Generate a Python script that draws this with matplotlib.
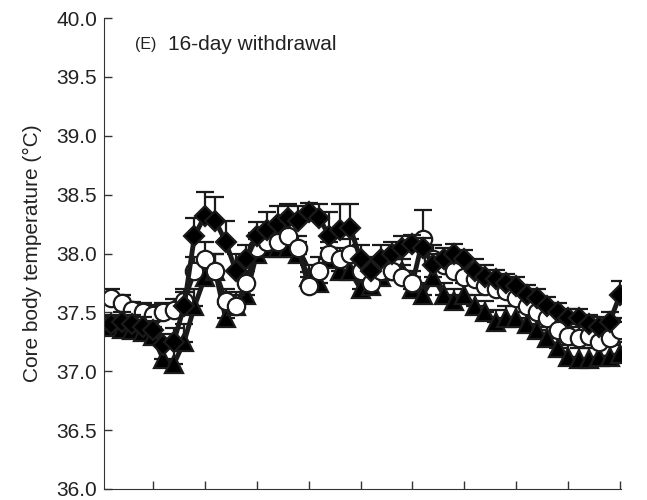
import numpy as np
import matplotlib
matplotlib.use("Agg")
import matplotlib.pyplot as plt

plt.rcParams['font.family'] = ['Liberation Sans', 'DejaVu Sans']

# time bins (ticks every 5 bins)
bins = np.arange(1, 51)

circle_vals = [37.62, 37.58, 37.52, 37.50, 37.48, 37.50, 37.52, 37.60, 37.85, 37.95,
               37.85, 37.60, 37.55, 37.75, 38.05, 38.10, 38.10, 38.15, 38.05, 37.72,
               37.85, 38.00, 37.95, 38.00, 37.85, 37.75, 37.85, 37.85, 37.80, 37.75,
               38.12, 37.95, 37.90, 37.85, 37.80, 37.78, 37.72, 37.70, 37.68, 37.62,
               37.55, 37.50, 37.45, 37.35, 37.30, 37.28, 37.30, 37.25, 37.28, 37.35]
circle_err = [0.08, 0.07, 0.07, 0.08, 0.08, 0.08, 0.09, 0.10, 0.12, 0.15,
              0.15, 0.10, 0.10, 0.10, 0.12, 0.12, 0.10, 0.10, 0.10, 0.12,
              0.12, 0.10, 0.10, 0.12, 0.10, 0.10, 0.10, 0.10, 0.10, 0.10,
              0.25, 0.12, 0.10, 0.10, 0.10, 0.10, 0.10, 0.08, 0.08, 0.08,
              0.08, 0.08, 0.08, 0.10, 0.10, 0.10, 0.10, 0.10, 0.10, 0.10]

diamond_vals = [37.40, 37.42, 37.40, 37.38, 37.35, 37.22, 37.25, 37.55, 38.15, 38.32,
                38.28, 38.10, 37.85, 37.95, 38.15, 38.20, 38.25, 38.30, 38.28, 38.35,
                38.30, 38.15, 38.20, 38.22, 37.95, 37.85, 37.95, 38.00, 38.05, 38.08,
                38.05, 37.90, 37.95, 38.00, 37.95, 37.85, 37.80, 37.78, 37.75, 37.72,
                37.65, 37.62, 37.55, 37.50, 37.45, 37.45, 37.40, 37.38, 37.42, 37.65]
diamond_err = [0.08, 0.08, 0.08, 0.08, 0.08, 0.10, 0.12, 0.12, 0.15, 0.20,
               0.20, 0.18, 0.15, 0.12, 0.12, 0.15, 0.15, 0.12, 0.12, 0.08,
               0.12, 0.20, 0.22, 0.20, 0.12, 0.12, 0.12, 0.10, 0.10, 0.08,
               0.08, 0.10, 0.10, 0.08, 0.08, 0.10, 0.10, 0.08, 0.08, 0.08,
               0.08, 0.08, 0.08, 0.08, 0.08, 0.08, 0.08, 0.08, 0.08, 0.12]

triangle_vals = [37.38, 37.36, 37.35, 37.33, 37.30, 37.10, 37.06, 37.25, 37.55, 37.80,
                 37.85, 37.45, 37.55, 37.65, 38.00, 38.05, 38.05, 38.05, 38.00, 37.80,
                 37.75, 37.95, 37.85, 37.85, 37.70, 37.72, 37.80, 37.85, 37.85, 37.70,
                 37.65, 37.80, 37.65, 37.60, 37.65, 37.55, 37.50, 37.42, 37.45, 37.45,
                 37.40, 37.35, 37.28, 37.20, 37.12, 37.10, 37.10, 37.12, 37.12, 37.15]
triangle_err = [0.08, 0.08, 0.08, 0.08, 0.08, 0.12, 0.15, 0.15, 0.15, 0.15,
                0.15, 0.12, 0.12, 0.12, 0.12, 0.12, 0.10, 0.10, 0.10, 0.10,
                0.10, 0.10, 0.10, 0.10, 0.10, 0.10, 0.10, 0.10, 0.10, 0.10,
                0.10, 0.10, 0.10, 0.10, 0.10, 0.10, 0.10, 0.10, 0.10, 0.10,
                0.10, 0.10, 0.10, 0.10, 0.10, 0.10, 0.10, 0.10, 0.10, 0.10]

fig = plt.figure(figsize=(6.47, 5.0), dpi=100)
ax = fig.add_axes([0.161, 0.022, 0.799, 0.942])

series = [
    (triangle_vals, triangle_err, '^', 'black', 13),
    (circle_vals, circle_err, 'o', 'white', 12.5),
    (diamond_vals, diamond_err, 'D', 'black', 10.5),
]
for vals, err, mk, fc, ms in series:
    vals = np.array(vals)
    err = np.array(err)
    ax.errorbar(bins, vals, yerr=[np.zeros_like(err), err], fmt='none',
                ecolor='#1a1a1a', elinewidth=1.6, capsize=6.5, capthick=1.6)
    ax.plot(bins, vals, color='#1a1a1a', lw=3.5, marker=mk, ms=ms,
            mfc=fc, mec='#1a1a1a', mew=1.6)

ax.set_xlim(0.3, 50.1)
ax.set_ylim(36.0, 40.0)
ax.set_xticks(np.arange(5, 51, 5))
ax.set_xticklabels([])
ax.set_yticks(np.arange(36.0, 40.01, 0.5))
ax.set_yticklabels(['%.1f' % v for v in np.arange(36.0, 40.01, 0.5)], fontsize=15)
ax.tick_params(direction='in', length=6, width=1, colors='#333333', labelcolor='#222222')
ax.tick_params(axis='y', pad=5)
for s in ['top', 'right']:
    ax.spines[s].set_visible(False)
for s in ['left', 'bottom']:
    ax.spines[s].set_color('#333333')
ax.set_ylabel('Core body temperature (\u00b0C)', fontsize=15, color='#222222', labelpad=10)

ax.text(0.06, 0.943, '(E)', transform=ax.transAxes, fontsize=11.5, color='#222222', va='center')
ax.text(0.124, 0.943, '16-day withdrawal', transform=ax.transAxes, fontsize=15, color='#222222', va='center')

fig.savefig('out.png', dpi=100)
